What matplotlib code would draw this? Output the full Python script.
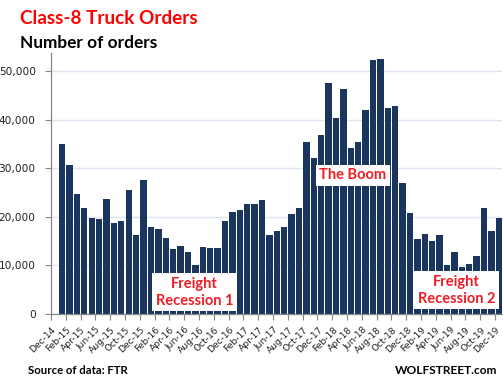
import matplotlib
matplotlib.use("Agg")
import matplotlib.pyplot as plt
import numpy as np
from matplotlib.ticker import FuncFormatter

# monthly categories Dec-14 .. Dec-19; the first one carries no bar
months = ["Dec-14",
          "Jan-15", "Feb-15", "Mar-15", "Apr-15", "May-15", "Jun-15",
          "Jul-15", "Aug-15", "Sep-15", "Oct-15", "Nov-15", "Dec-15",
          "Jan-16", "Feb-16", "Mar-16", "Apr-16", "May-16", "Jun-16",
          "Jul-16", "Aug-16", "Sep-16", "Oct-16", "Nov-16", "Dec-16",
          "Jan-17", "Feb-17", "Mar-17", "Apr-17", "May-17", "Jun-17",
          "Jul-17", "Aug-17", "Sep-17", "Oct-17", "Nov-17", "Dec-17",
          "Jan-18", "Feb-18", "Mar-18", "Apr-18", "May-18", "Jun-18",
          "Jul-18", "Aug-18", "Sep-18", "Oct-18", "Nov-18", "Dec-18",
          "Jan-19", "Feb-19", "Mar-19", "Apr-19", "May-19", "Jun-19",
          "Jul-19", "Aug-19", "Sep-19", "Oct-19", "Nov-19", "Dec-19"]

# orders for Jan-15 .. Dec-19
orders = [34900, 30750, 24760, 21870, 19810, 19600, 23730, 18780, 19190, 25590,
          16300, 27650, 17950, 17540, 15680, 13410, 14030, 12790, 10110, 13830,
          13620, 13620, 19190, 21050, 21460, 22700, 22700, 23520, 16300, 17130,
          17950, 20640, 21870, 35490, 32190, 36730, 47460, 40240, 46220, 34250,
          35290, 41890, 52200, 52400, 42300, 42710, 27030, 20840, 15480, 16510,
          15060, 16300, 10110, 12790, 9700, 10320, 11970, 21900, 17130, 19810]

yticks = [0, 10000, 20000, 30000, 40000, 50000]

bar_color = "#1b365e"
red = "#f01c24"

fig = plt.figure(figsize=(5.03, 3.83), dpi=100)
ax = fig.add_axes([51 / 503, 69 / 383, 451.5 / 503, 261 / 383])

x = np.arange(1, len(months))
ax.bar(x, orders, width=0.86, color=bar_color, zorder=3)

ax.set_xlim(-0.5, len(months) - 0.5)
ax.set_ylim(0, 53700)

# y axis
ax.set_yticks(yticks)
ax.yaxis.set_major_formatter(FuncFormatter(lambda v, p: "{:,.0f}".format(v)))
ax.grid(axis="y", color="#dfe5f0", linewidth=1, zorder=0)
ax.tick_params(axis="y", length=4, width=0.8, color="#868686", pad=7,
               labelsize=7.6, labelcolor="#222222")

# x axis: labels every second month (nudged left a little so the last fits),
# tick marks on the category boundaries
ax.set_xticks(np.arange(0, len(months), 2) - 0.45)
ax.set_xticklabels(months[::2], rotation=45, ha="right", va="top",
                   rotation_mode="anchor", fontsize=6.6, color="#222222")
ax.set_xticks(np.arange(-0.5, len(months) - 1, 2), minor=True)
ax.tick_params(axis="x", which="major", length=0, pad=8)
ax.tick_params(axis="x", which="minor", length=4, width=0.8, color="#868686")

for s in ["top", "right"]:
    ax.spines[s].set_visible(False)
for s in ["left", "bottom"]:
    ax.spines[s].set_color("#868686")
    ax.spines[s].set_linewidth(0.9)
    ax.spines[s].set_zorder(4)

box = dict(boxstyle="square,pad=0.25", facecolor="white", edgecolor="none")
ax.text(40.3, 28500, "The Boom", color=red, fontsize=10.5, fontweight="bold",
        family="Lato", ha="center", va="center", bbox=box, zorder=5)
ax.text(18.9, 4500, "Freight\nRecession 1", color=red, fontsize=10.5,
        fontweight="bold", family="Lato", ha="center", va="center",
        linespacing=1.25, bbox=box, zorder=5)
ax.text(54.3, 4900, "Freight\nRecession 2", color=red, fontsize=10.5,
        fontweight="bold", family="Lato", ha="center", va="center",
        linespacing=1.25, bbox=box, zorder=5)

fig.text(20 / 503, 1 - 19 / 383, "Class-8 Truck Orders", color="#ff0000",
         fontsize=13.6, fontweight="bold", family="Lato", va="center")
fig.text(20 / 503, 1 - 43 / 383, "Number of orders", color="black",
         fontsize=12.4, fontweight="bold", family="Lato", va="center")
fig.text(28 / 503, 1 - 371 / 383, "Source of data: FTR", color="black",
         fontsize=8.2, fontweight="bold", family="Lato", va="center")
fig.text(497 / 503, 1 - 371 / 383, "WOLFSTREET.com", color="black",
         fontsize=8.6, fontweight="bold", family="Lato", va="center", ha="right")

fig.savefig("out.png", dpi=100)
